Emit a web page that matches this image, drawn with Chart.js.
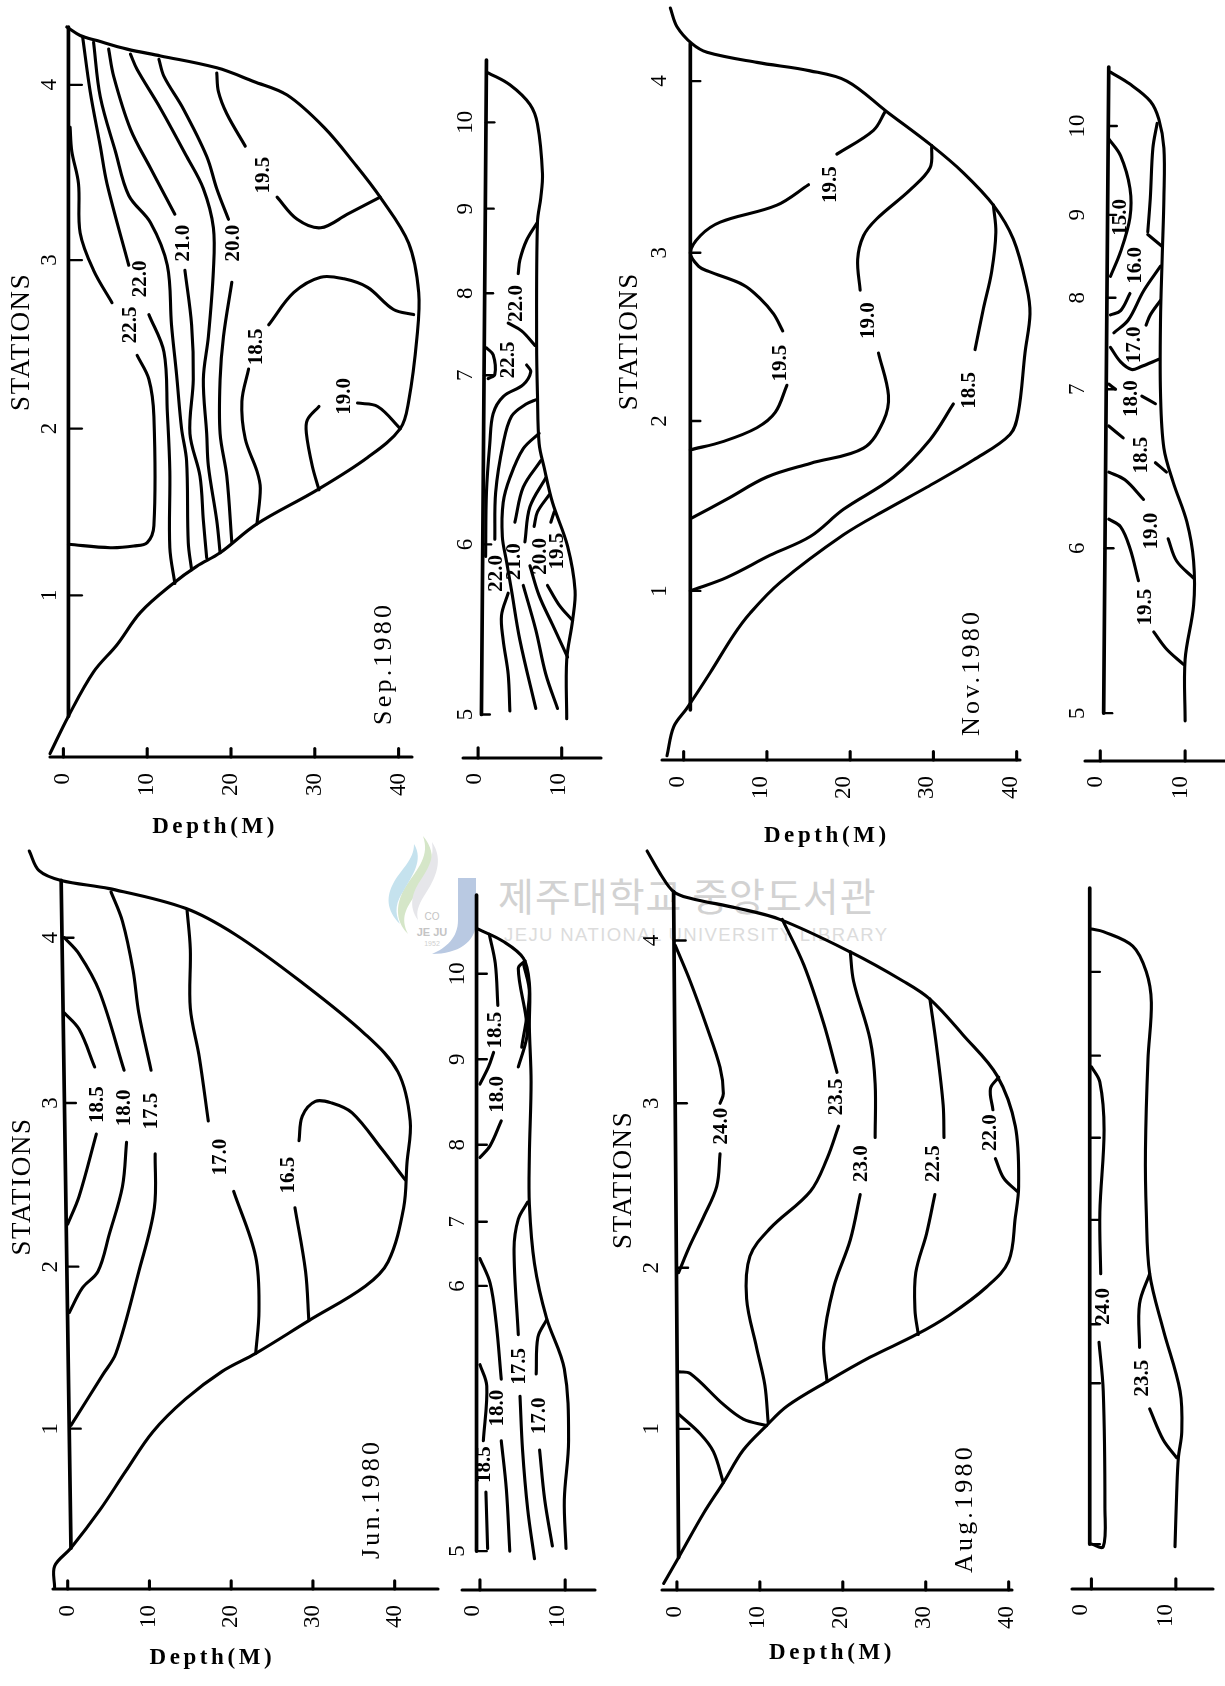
<!DOCTYPE html>
<html><head><meta charset="utf-8"><title>Temperature sections 1980</title>
<script src="https://cdn.jsdelivr.net/npm/chart.js@4/dist/chart.umd.min.js"></script>
<style>
html,body{margin:0;padding:0;background:#fff;width:1225px;height:1686px;overflow:hidden}
canvas{position:absolute;display:block}
.wm{position:absolute;white-space:nowrap}
</style></head><body>
<svg class="wm" style="left:386px;top:830px" width="110" height="130" viewBox="0 0 110 130">
<path d="M37 6C54 26 44 46 30 64C20 78 14 88 22 104C8 90 10 72 20 56C32 38 44 26 37 6Z" fill="#d5e6c8"/>
<path d="M28 14C38 30 26 46 18 60C10 72 8 82 14 94C0 80 0 66 8 52C16 38 28 30 28 14Z" fill="#c5e2ee"/>
<path d="M46 12C58 30 50 48 38 66C32 76 30 82 32 90C22 76 26 62 36 48C44 36 48 26 46 12Z" fill="#e6e6ea"/>
<path d="M72 48H90V92C90 112 72 124 46 124C60 118 72 108 72 90Z" fill="#b9c9e2"/>
<text x="46" y="90" font-family="Liberation Sans" font-size="10" fill="#c4c4c4" text-anchor="middle">CO</text>
<text x="46" y="106" font-family="Liberation Sans" font-weight="bold" font-size="11" fill="#c4c4c4" text-anchor="middle">JE JU</text>
<text x="46" y="116" font-family="Liberation Sans" font-size="7" fill="#cfcfcf" text-anchor="middle">1952</text>
</svg>
<div class="wm" style="left:498px;top:866px;font:39px 'Noto Sans CJK KR';color:#d2d2d2;letter-spacing:1px">제주대학교 중앙도서관</div>
<div class="wm" style="left:504px;top:924px;font:18.5px 'Liberation Sans';color:#dcdcdc;letter-spacing:1.4px">JEJU NATIONAL UNIVERSITY LIBRARY</div>
<script>
// ---------- Sep 1980 (stations 1-4): [depth m, station position]
const sepStationPos=[1,1.98,2.97,4];
const sepStationLab=['1','2','3','4'];
const depthTicksBig=[0,10,20,30,40];
const depthTicksSmall=[0,10];
const sepSurface=[[0.6,4.34],[0.6,0.29]];
const sepBottom=[[-1.6,0.07],[0.6,0.29],[3.6,0.55],[6.4,0.71],[9.2,0.90],[13.1,1.07],[15.9,1.17],[18.7,1.25],[23.1,1.42],[30.3,1.62],[36.3,1.81],[40.2,1.98],[41.2,2.14],[42.2,2.52],[42.4,2.78],[41.2,3.07],[37.8,3.34],[34.7,3.54],[31.1,3.75],[26.7,3.94],[22.7,4.02],[18.3,4.10],[11.6,4.17],[7.6,4.21],[4.0,4.26],[2.0,4.29],[0.4,4.34]];
const sepContours=[
[[0.8,3.75],[1.0,3.61],[1.8,3.42],[2.0,3.13],[3.6,2.91],[5.8,2.72]],
[[8.8,2.41],[10.2,2.27],[10.8,2.05],[10.8,1.41],[10.0,1.31],[8.4,1.29],[5.6,1.28],[0.6,1.30]],
[[2.3,4.28],[3.2,3.96],[4.4,3.64],[5.2,3.42],[7.8,2.94]],
[[10.2,2.65],[12.0,2.43],[12.4,2.08],[12.7,1.73],[12.7,1.28],[13.3,1.07]],
[[3.6,4.25],[4.4,3.93],[6.2,3.61],[7.8,3.35],[10.4,3.19],[12.4,2.94],[12.9,2.59],[13.5,2.30],[14.1,1.98],[14.7,1.79],[14.9,1.31],[15.3,1.15]],
[[5.4,4.21],[6.0,4.05],[8.0,3.74],[10.4,3.51],[13.3,3.24]],
[[14.5,2.91],[15.3,2.59],[15.5,2.27],[15.1,1.95],[16.3,1.70],[16.7,1.44],[17.1,1.22]],
[[8.0,4.18],[8.8,4.09],[11.6,3.86],[14.7,3.58],[16.7,3.39],[17.9,3.16],[17.9,2.91],[17.3,2.52],[16.7,2.27],[17.1,1.95],[17.3,1.76],[18.3,1.44],[18.7,1.25]],
[[11.4,4.15],[12.0,4.05],[14.3,3.86],[17.1,3.58],[18.3,3.39],[19.7,3.21]],
[[20.1,2.84],[19.1,2.52],[18.7,2.27],[18.7,1.95],[19.5,1.70],[20.1,1.31]],
[[18.3,4.07],[18.5,3.96],[19.5,3.83],[21.7,3.64]],
[[25.5,3.34],[27.9,3.21],[30.7,3.16],[33.9,3.24],[37.8,3.34]],
[[41.8,2.65],[39.4,2.68],[36.3,2.81],[33.5,2.86],[30.7,2.87],[27.5,2.78],[24.5,2.59]],
[[22.1,2.33],[21.3,2.14],[21.7,1.92],[23.1,1.73],[23.5,1.63],[23.1,1.42]],
[[30.5,2.11],[29.1,2.03],[29.0,1.95],[29.7,1.76],[30.5,1.62]],
[[35.1,2.13],[37.5,2.11],[40.2,1.98]]
];
const sepLevels=['22.5','22.0','21.0','20.0','19.5','18.5','19.0'];
const sepLevelPos=[[8.0,2.59],[9.2,2.86],[14.3,3.07],[20.3,3.07],[23.9,3.47],[23.1,2.46],[33.5,2.17]];

// ---------- Sep 1980 (stations 5-10)
const sepSmallStationPos=[0,1.99,3.97,4.93,5.92,6.93];
const sepSmallStationLab=['5','6','7','8','9','10'];
const sepSmallSurface=[[1.0,7.66],[0.4,0]];
const sepSmallBottom=[[1.2,7.51],[3.8,7.37],[6.2,7.14],[7.1,6.91],[7.7,6.33],[7.5,6.05],[7.1,5.76],[7.0,4.32],[7.1,3.75],[7.3,3.17],[7.9,2.89],[8.9,2.48],[10.7,1.97],[11.6,1.45],[11.3,1.10],[10.6,0.64],[10.6,-0.05]];
const sepSmallContours=[
[[7.1,5.76],[5.8,5.55],[5.0,5.32],[4.8,5.16]],
[[3.6,4.58],[5.2,4.49],[6.8,4.32]],
[[1.0,4.29],[1.8,4.21],[2.0,3.98],[1.2,3.93]],
[[5.8,4.09],[6.3,4.01],[5.4,3.86],[3.0,3.72],[1.8,3.52],[1.4,3.17],[1.0,2.60],[0.9,1.85]],
[[3.6,1.42],[2.8,1.16],[3.0,0.87],[3.6,0.47],[3.8,0.04]],
[[7.1,3.69],[5.7,3.63],[4.0,3.49],[3.0,3.17],[2.1,2.60],[2.0,2.05]],
[[7.3,3.29],[5.4,3.11],[3.8,2.77],[3.0,2.48],[2.9,2.08],[3.4,1.79],[4.0,1.45],[5.0,0.87],[6.9,0.07]],
[[7.5,2.97],[5.4,2.66],[4.4,2.25]],
[[5.4,1.51],[6.9,0.99],[8.1,0.47],[9.5,0.07]],
[[8.1,2.77],[6.2,2.43],[5.6,2.02]],
[[6.2,1.74],[7.3,1.39],[8.9,1.05],[10.7,0.67]],
[[8.5,2.57],[7.1,2.37],[6.7,2.20]],
[[9.1,2.37],[8.7,2.25]],
[[8.3,1.51],[9.7,1.28],[11.3,1.10]]
];
const sepSmallLevels=['22.0','22.5','22.0','21.0','20.0','19.5'];
const sepSmallLevelPos=[[4.6,4.81],[3.6,4.15],[2.2,1.65],[4.4,1.79],[7.5,1.85],[9.5,1.91]];

// ---------- Nov 1980 (stations 1-4)
const novStationPos=[1,2,2.99,4];
const novStationLab=['1','2','3','4'];
const novSurface=[[0.8,4.22],[0.8,0.30]];
const novBottom=[[-1.6,4.43],[-0.8,4.32],[1.0,4.22],[2.8,4.17],[8.8,4.11],[15.2,4.06],[19.6,4.00],[24.4,3.82],[29.8,3.62],[33.6,3.46],[37.2,3.27],[39.6,3.07],[41.2,2.79],[41.6,2.63],[41.0,2.40],[40.2,2.05],[39.2,1.92],[34.8,1.77],[29.2,1.61],[24.4,1.48],[19.2,1.33],[11.6,1.05],[8.0,0.87],[6.0,0.74],[3.2,0.52],[0.4,0.31],[-1.2,0.20],[-2.0,0.03]];
const novContours=[
[[24.2,3.82],[22.8,3.71],[18.4,3.57]],
[[15.0,3.39],[11.2,3.27],[4.4,3.17],[2.0,3.09],[0.8,2.99],[1.8,2.91],[3.0,2.88],[7.2,2.80],[9.2,2.72],[10.8,2.63],[11.9,2.53]],
[[12.4,2.21],[11.0,2.05],[8.8,1.96],[4.8,1.88],[0.8,1.83]],
[[29.8,3.62],[29.6,3.49],[27.2,3.36],[23.2,3.19],[21.6,3.09],[20.9,2.95],[21.2,2.77]],
[[23.4,2.40],[24.6,2.15],[24.0,2.00],[21.6,1.84],[15.2,1.75],[10.0,1.67],[5.2,1.54],[1.0,1.43]],
[[37.2,3.27],[37.5,3.11],[37.0,2.88],[36.0,2.66],[35.0,2.42]],
[[32.4,2.10],[29.6,1.89],[25.2,1.67],[19.2,1.48],[15.2,1.32],[10.4,1.21],[5.2,1.08],[0.8,1.00]]
];
const novLevels=['19.5','19.5','19.0','18.5'];
const novLevelPos=[[17.6,3.39],[11.6,2.34],[22.2,2.59],[34.4,2.18]];

// ---------- Nov 1980 (stations 5-10)
const novSmallStationPos=[0,1.93,3.79,4.86,5.83,6.87];
const novSmallStationLab=['5','6','7','8','9','10'];
const novSmallSurface=[[1.0,7.56],[0.4,0]];
const novSmallBottom=[[1.2,7.50],[3.5,7.36],[5.9,7.16],[6.9,6.95],[7.5,6.61],[7.5,6.03],[7.3,5.34],[7.1,4.60],[7.1,3.74],[7.5,3.10],[8.6,2.70],[10.2,2.24],[11.0,1.78],[11.0,1.26],[10.0,0.63],[10.0,-0.09]];
const novSmallContours=[
[[1.0,6.72],[2.4,6.52],[3.5,6.14],[3.5,5.80],[2.4,5.40],[1.2,5.11]],
[[6.7,6.90],[6.2,6.61],[5.9,6.03],[5.6,5.63]],
[[5.6,5.60],[7.3,5.46]],
[[3.5,4.91],[2.4,4.71],[1.2,4.66]],
[[7.1,5.23],[5.1,4.94],[3.3,4.60],[1.6,4.45]],
[[7.1,4.83],[5.9,4.66],[5.4,4.54]],
[[1.2,4.28],[2.4,4.11],[3.7,4.02],[4.7,4.05],[6.9,4.14]],
[[1.0,3.85],[1.8,3.79]],
[[4.9,3.71],[6.5,3.62]],
[[1.0,3.36],[2.7,3.22]],
[[6.5,2.93],[7.8,2.82]],
[[1.0,2.82],[2.9,2.73],[5.1,2.50]],
[[1.0,2.27],[2.4,2.18],[3.5,1.93],[4.5,1.55]],
[[8.0,2.04],[9.0,1.78],[11.0,1.58]],
[[6.3,0.95],[7.8,0.75],[9.8,0.57]]
];
const novSmallLevels=['15.0','16.0','17.0','18.0','18.5','19.0','19.5'];
const novSmallLevelPos=[[2.4,5.80],[4.2,5.24],[4.1,4.31],[3.7,3.68],[4.9,3.02],[6.1,2.13],[5.3,1.24]];

// ---------- Jun 1980 (stations 1-4)
const junStationPos=[1,1.99,2.99,4];
const junStationLab=['1','2','3','4'];
const junSurface=[[-0.8,4.35],[0.4,0.27]];
const junBottom=[[-4.7,4.53],[-3.5,4.41],[-0.8,4.35],[5.1,4.30],[14.4,4.18],[20.5,4.02],[28.3,3.74],[36.4,3.41],[40.4,3.18],[41.9,2.88],[41.5,2.62],[41.1,2.35],[39.2,2.02],[36.4,1.87],[29.5,1.66],[23.0,1.46],[18.9,1.35],[14.4,1.18],[10.4,0.98],[7.1,0.74],[3.9,0.50],[0.4,0.27],[-1.6,0.16],[-1.6,0.03]];
const junContours=[
[[-0.4,3.54],[1.4,3.44],[3.3,3.21]],
[[3.5,2.80],[1.4,2.42],[0.0,2.25]],
[[-0.4,4.0],[1.4,3.90],[3.9,3.67],[6.9,3.19]],
[[7.2,2.75],[6.7,2.48],[5.1,2.19],[3.7,1.96],[1.8,1.86],[0.2,1.71]],
[[5.3,4.28],[6.7,4.10],[8.0,3.80],[8.7,3.54],[10.2,3.19]],
[[10.7,2.68],[10.6,2.35],[8.7,1.96],[5.9,1.46],[4.3,1.33],[0.4,1.02]],
[[14.6,4.17],[15.0,3.93],[15.0,3.57],[16.1,3.27],[17.2,2.88]],
[[20.3,2.45],[23.0,2.05],[23.4,1.72],[23.0,1.46]],
[[41.3,2.52],[38.4,2.71],[34.8,2.93],[32.3,2.99],[30.3,3.00],[28.7,2.91],[28.3,2.76]],
[[27.8,2.35],[29.1,1.96],[29.5,1.66]]
];
const junLevels=['18.5','18.0','17.5','17.0','16.5'];
const junLevelPos=[[3.7,2.98],[6.9,2.96],[10.2,2.94],[18.7,2.66],[27.0,2.55]];

// ---------- Jun 1980 (stations 5-10)
const junSmallStationPos=[0,3.10,3.85,4.75,5.75,6.75];
const junSmallStationLab=['5','6','7','8','9','10'];
const junSmallSurface=[[-0.4,7.67],[-0.4,0]];
const junSmallBottom=[[-0.2,7.27],[2.7,7.13],[5.1,6.93],[5.8,6.64],[5.8,6.12],[6.0,5.49],[5.8,4.63],[5.8,4.05],[6.4,3.36],[7.8,2.73],[9.9,2.13],[10.4,1.29],[9.9,0.60],[10.1,0.03]];
const junSmallContours=[
[[1.1,7.21],[1.8,6.87],[2.1,6.38]],
[[1.6,5.83],[1.0,5.66],[0,5.46]],
[[5.3,6.90],[4.5,6.81],[5.4,6.24],[5.5,6.01],[4.5,5.66]],
[[5.1,6.87],[5.8,6.52],[4.9,5.89]],
[[2.5,5.03],[1.2,4.74],[0,4.60]],
[[5.6,4.08],[4.5,3.88],[4.0,3.53],[4.5,2.53]],
[[0,3.42],[1.2,3.13],[1.9,2.67],[2.5,2.01]],
[[7.8,2.70],[6.8,2.50],[6.6,2.07]],
[[4.7,1.81],[5.0,1.18],[5.6,0.49],[6.4,-0.09]],
[[7.0,1.18],[7.6,0.60],[8.5,0.06]],
[[2.5,1.29],[3.1,0.72],[3.5,0.0]],
[[0,2.18],[0.8,1.93],[0.4,1.29]],
[[0.7,0.69],[0.9,0.03]]
];
const junSmallLevels=['18.5','18.0','17.5','18.0','17.0','18.5'];
const junSmallLevelPos=[[1.8,6.09],[2.1,5.34],[4.7,2.16],[2.1,1.67],[7.0,1.58],[0.6,1.01]];

// ---------- Aug 1980 (stations 1-4)
const augStationPos=[1,1.99,3,4];
const augStationLab=['1','2','3','4'];
const augSurface=[[-0.4,4.30],[0.2,0.21]];
const augBottom=[[-3.6,4.55],[-2.0,4.41],[-0.4,4.30],[1.6,4.26],[7.2,4.20],[12.4,4.13],[20.9,3.93],[27.3,3.75],[30.5,3.64],[34.5,3.42],[38.6,3.17],[40.8,2.86],[41.2,2.49],[40.8,2.30],[40.0,2.03],[37.3,1.87],[32.9,1.70],[28.9,1.58],[23.3,1.44],[18.1,1.29],[13.3,1.14],[10.8,1.02],[8.0,0.87],[5.6,0.67],[3.2,0.48],[0.2,0.21],[-1.6,0.05]];
const augContours=[
[[-0.2,3.97],[1.6,3.75],[3.6,3.47],[5.2,3.22],[5.6,3.06],[5.2,3.0]],
[[5.2,2.69],[4.8,2.49],[3.2,2.30],[1.6,2.13],[0.2,1.96]],
[[12.7,4.13],[15.3,3.85],[17.7,3.49],[19.3,3.19]],
[[19.5,2.86],[18.1,2.66],[16.1,2.46],[11.2,2.23],[8.8,2.06],[8.4,1.80],[9.6,1.50],[10.6,1.27],[11.0,1.04]],
[[20.9,3.93],[21.3,3.75],[23.3,3.39],[23.9,3.12],[23.9,2.79]],
[[22.1,2.44],[20.9,2.16],[18.9,1.87],[17.7,1.53],[18.1,1.29]],
[[30.5,3.64],[31.3,3.35],[32.1,2.99],[32.2,2.79]],
[[31.1,2.44],[30.1,2.20],[28.8,1.96],[28.7,1.73],[29.1,1.58]],
[[38.8,3.16],[37.8,3.09],[38.1,2.96]],
[[38.4,2.66],[39.4,2.54],[41.0,2.46]],
[[0.2,1.35],[1.6,1.34],[5.6,1.15],[8.0,1.06],[10.8,1.02]],
[[0.2,1.09],[2.8,0.97],[4.4,0.86],[5.6,0.67]]
];
const augLevels=['24.0','23.5','23.0','22.5','22.0'];
const augLevelPos=[[5.4,2.86],[19.3,3.04],[22.3,2.63],[31.0,2.63],[37.8,2.82]];

// ---------- Aug 1980 (stations 5-10, tick marks only)
const augSmallStationPos=[0,1.88,2.57,3.79,4.75,5.71,6.69];
const augSmallSurface=[[-0.2,7.67],[-0.2,0]];
const augSmallBottom=[[0,7.19],[1.4,7.16],[4.9,6.99],[6.5,6.69],[7.1,6.33],[6.7,5.67],[6.4,4.60],[6.5,3.88],[6.9,3.16],[8.5,2.51],[10.5,1.79],[10.7,1.31],[10.3,1.01],[10.1,0.60],[9.9,-0.03]];
const augSmallContours=[
[[0,5.58],[1.0,5.40],[1.5,4.84],[1.0,3.88],[1.1,3.16]],
[[0.9,2.36],[1.4,1.79],[1.6,0.42],[1.4,-0.03],[0,0]],
[[6.9,3.16],[5.7,2.81],[5.7,2.30]],
[[6.9,1.58],[8.5,1.22],[10.1,1.01]]
];
const augSmallLevels=['24.0','23.5'];
const augSmallLevelPos=[[1.4,2.78],[6.1,1.94]];

// ---------- drawing helpers
const INK='#000', SERIF="'Liberation Serif'", LW=3.1, TICK_SIZE=23;
function toPts(a){return a.map(p=>({x:p[0],y:p[1]}));}
function lineDs(a,w){return {data:toPts(a),borderColor:INK,borderWidth:w||LW,showLine:true,pointRadius:0,tension:0.35,clip:false,borderCapStyle:'round',borderJoinStyle:'round'};}

function panel(c){
  const shift=16;                                   // room so the y labels are not clipped by the axis box
  const pxPerM=(c.R-c.L)/(c.xmax-c.xmin);
  const xminArea=c.xmin+shift/pxPerM, L=c.L+shift;
  const W=c.padL+shift, H=c.padB, PT=10, PR=c.padR;
  const cv=document.createElement('canvas');
  const aw=c.R-L, ah=c.B-c.T;
  cv.width=Math.round(W+aw+PR); cv.height=Math.round(PT+ah+H);
  cv.style.left=(L-W)+'px'; cv.style.top=(c.T-PT)+'px';
  document.body.appendChild(cv);
  const ds=[lineDs(c.surface,LW+0.6),lineDs(c.bottom)];
  ds.push({...lineDs([[c.xmin,c.ymin],[c.xmax,c.ymin]],LW),tension:0});
  c.contours.forEach(l=>ds.push(lineDs(l)));
  c.depthTicks.forEach(v=>{ds.push({...lineDs([[v,c.ymin],[v,c.ymin+c.xTickLen]]),tension:0});});
  c.stationPos.forEach(v=>{const s=c.surfaceAt(v);ds.push({...lineDs([[s,v],[s+c.yTickLen,v]],2.4),tension:0});});
  const notes={id:'notes',afterDatasetsDraw(ch){
    const cx=ch.ctx,sx=ch.scales.x,sy=ch.scales.y;
    const put=(t,d,s,font,rot,sp)=>{cx.save();cx.translate(sx.getPixelForValue(d),sy.getPixelForValue(s));
      if(rot)cx.rotate(-Math.PI/2);cx.font=font;cx.fillStyle=INK;cx.textAlign='center';cx.textBaseline='middle';
      cx.letterSpacing=(sp||0)+'px';cx.fillText(t,0,0);cx.restore();};
    c.levels.forEach((t,i)=>put(t,c.levelPos[i][0],c.levelPos[i][1],"bold 21px "+SERIF,true,0));
    if(c.month)put(c.month,c.monthPos[0],c.monthPos[1],"26px "+SERIF,true,3.2);
    if(c.stationsPos)put('STATIONS',c.stationsPos[0],c.stationsPos[1],"27px "+SERIF,true,1.6);
    if(c.depthPos)put('Depth(M)',c.depthPos[0],c.depthPos[1],"bold 23px "+SERIF,false,3.6);
  }};
  const maxLen=Math.max(...(c.stationLab||['']).map(s=>s.length));
  new Chart(cv,{type:'scatter',data:{datasets:ds},plugins:[notes],options:{
    responsive:false,animation:false,devicePixelRatio:1,
    layout:{padding:{top:PT,right:PR,left:0,bottom:0}},
    plugins:{legend:{display:false},tooltip:{enabled:false},title:{display:false}},
    events:[],
    scales:{
      x:{type:'linear',min:xminArea,max:c.xmax,
        afterBuildTicks(s){s.ticks=c.depthTicks.map(v=>({value:v}));},
        afterFit(s){s.height=H;s.paddingLeft=0;s.paddingRight=0;},
        grid:{display:false,drawTicks:false},border:{display:false},
        ticks:{autoSkip:false,minRotation:90,maxRotation:90,padding:c.xLabPad,labelOffset:c.xLabOff,color:INK,font:{family:SERIF,size:TICK_SIZE},callback:v=>String(v)}},
      y:{type:'linear',min:c.ymin,max:c.ymax,
        afterBuildTicks(s){s.ticks=c.stationPos.map(v=>({value:v}));},
        afterFit(s){s.width=W;s.paddingTop=0;s.paddingBottom=0;},
        grid:{display:false,drawTicks:false},border:{display:false},
        ticks:{display:!!c.stationLab,autoSkip:false,minRotation:90,maxRotation:90,crossAlign:'center',
          padding:c.yLabOff+shift-maxLen*TICK_SIZE/4,color:INK,font:{family:SERIF,size:TICK_SIZE},
          callback:v=>c.stationLab?c.stationLab[c.stationPos.indexOf(v)]:''}}
    }}});
}
const surf=a=>v=>{const t=(v-a[1][1])/(a[0][1]-a[1][1]);return a[1][0]+t*(a[0][0]-a[1][0]);};

panel({L:50,R:412,T:27,B:757,padL:50,padB:92,padR:25,xmin:-1.6,xmax:41.6,ymin:0.05,ymax:4.34,xLabPad:16,xLabOff:0,yLabOff:0,xTickLen:0.05,yTickLen:1.6,
  depthTicks:depthTicksBig,stationPos:sepStationPos,stationLab:sepStationLab,surface:sepSurface,surfaceAt:surf(sepSurface),bottom:sepBottom,contours:sepContours,levels:sepLevels,levelPos:sepLevelPos,
  month:'Sep.1980',monthPos:[38.3,0.60],stationsPos:[-5.0,2.49],depthPos:[18.1,-0.36]});
panel({L:463.3,R:601.7,T:59.8,B:758,padL:30,padB:60,padR:10,xmin:-1.8,xmax:14.7,ymin:-0.51,ymax:7.66,xLabPad:15,xLabOff:-3,yLabOff:-3,xTickLen:0.12,yTickLen:1.0,
  depthTicks:depthTicksSmall,stationPos:sepSmallStationPos,stationLab:sepSmallStationLab,surface:sepSmallSurface,surfaceAt:surf(sepSmallSurface),bottom:sepSmallBottom,contours:sepSmallContours,levels:sepSmallLevels,levelPos:sepSmallLevelPos});
panel({L:661.7,R:1020,T:8,B:760,padL:50,padB:90,padR:25,xmin:-2.6,xmax:40.4,ymin:0.005,ymax:4.43,xLabPad:16,xLabOff:-6,yLabOff:2,xTickLen:0.05,yTickLen:1.2,
  depthTicks:depthTicksBig,stationPos:novStationPos,stationLab:novStationLab,surface:novSurface,surfaceAt:surf(novSurface),bottom:novBottom,contours:novContours,levels:novLevels,levelPos:novLevelPos,
  month:'Nov.1980',monthPos:[34.6,0.52],stationsPos:[-6.4,2.47],depthPos:[17.2,-0.44]});
panel({L:1085,R:1225,T:67,B:760.5,padL:30,padB:60,padR:0,xmin:-1.8,xmax:14.7,ymin:-0.56,ymax:7.56,xLabPad:15,xLabOff:-4,yLabOff:7,xTickLen:0.12,yTickLen:1.0,
  depthTicks:depthTicksSmall,stationPos:novSmallStationPos,stationLab:novSmallStationLab,surface:novSmallSurface,surfaceAt:surf(novSmallSurface),bottom:novSmallBottom,contours:novSmallContours,levels:novSmallLevels,levelPos:novSmallLevelPos});
panel({L:53.3,R:438,T:851,B:1589,padL:50,padB:95,padR:10,xmin:-1.8,xmax:45.3,ymin:0.02,ymax:4.53,xLabPad:16,xLabOff:0,yLabOff:2,xTickLen:0.05,yTickLen:1.4,
  depthTicks:depthTicksBig,stationPos:junStationPos,stationLab:junStationLab,surface:junSurface,surfaceAt:surf(junSurface),bottom:junBottom,contours:junContours,levels:junLevels,levelPos:junLevelPos,
  month:'Jun.1980',monthPos:[37.2,0.57],stationsPos:[-5.5,2.48],depthPos:[17.7,-0.40]});
panel({L:462.3,R:595.7,T:895,B:1590,padL:30,padB:60,padR:10,xmin:-2.1,xmax:13.5,ymin:-0.455,ymax:7.67,xLabPad:15,xLabOff:-7,yLabOff:4,xTickLen:0.12,yTickLen:1.2,
  depthTicks:depthTicksSmall,stationPos:junSmallStationPos,stationLab:junSmallStationLab,surface:junSmallSurface,surfaceAt:surf(junSmallSurface),bottom:junSmallBottom,contours:junSmallContours,levels:junSmallLevels,levelPos:junSmallLevelPos});
panel({L:661.7,R:1011.7,T:850.8,B:1590,padL:50,padB:90,padR:25,xmin:-1.8,xmax:40.4,ymin:0.01,ymax:4.55,xLabPad:16,xLabOff:-2,yLabOff:10,xTickLen:0.05,yTickLen:1.4,
  depthTicks:depthTicksBig,stationPos:augStationPos,stationLab:augStationLab,surface:augSurface,surfaceAt:surf(augSurface),bottom:augBottom,contours:augContours,levels:augLevels,levelPos:augLevelPos,
  month:'Aug.1980',monthPos:[34.7,0.51],stationsPos:[-6.4,2.53],depthPos:[18.7,-0.38]});
panel({L:1072.3,R:1213.3,T:887.7,B:1588.5,padL:30,padB:60,padR:10,xmin:-2.3,xmax:14.4,ymin:-0.525,ymax:7.67,xLabPad:15,xLabOff:-10,yLabOff:0,xTickLen:0.12,yTickLen:1.2,
  depthTicks:depthTicksSmall,stationPos:augSmallStationPos,stationLab:null,surface:augSmallSurface,surfaceAt:surf(augSmallSurface),bottom:augSmallBottom,contours:augSmallContours,levels:augSmallLevels,levelPos:augSmallLevelPos});
</script></body></html>
